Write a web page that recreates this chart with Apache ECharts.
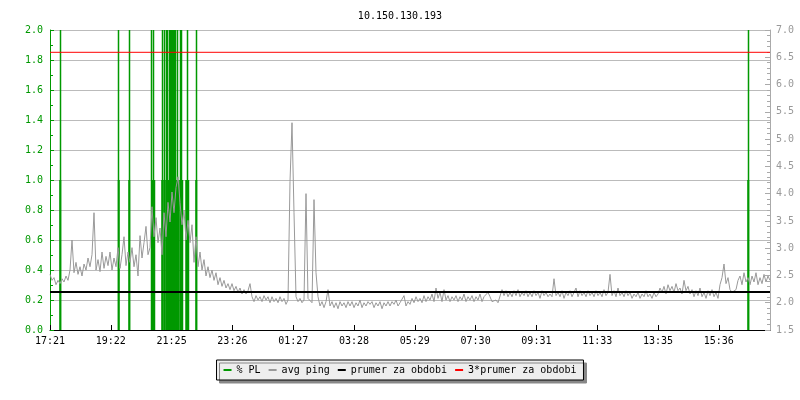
<!DOCTYPE html>
<html>
<head>
<meta charset="utf-8">
<script src="https://cdn.jsdelivr.net/npm/echarts@6/dist/echarts.min.js"></script>
<style>
  html, body { margin: 0; padding: 0; background: #fff; }
  #chart { width: 800px; height: 400px; }
</style>
</head>
<body>
<div id="chart"></div>
<script>
// x axis labels, one every labelStep minutes from 17:21
const xLabels = ['17:21', '19:22', '21:25', '23:26', '01:27', '03:28', '05:29', '07:30', '09:31', '11:33', '13:35', '15:36']
const labelStep = 121.6
const totalMinutes = 1440

// avg ping [ms], one value every 4 minutes
const pingStep = 4
const pingValues = [
  2.52, 2.41, 2.46, 2.33, 2.41, 2.35, 2.44, 2.38, 2.49, 2.41,
  2.60, 3.15, 2.55, 2.74, 2.52, 2.66, 2.49, 2.71, 2.60, 2.82,
  2.66, 2.88, 3.65, 2.60, 2.79, 2.57, 2.93, 2.63, 2.85, 2.68,
  2.93, 2.60, 2.82, 2.66, 3.01, 2.63, 2.88, 3.21, 2.68, 2.93,
  2.74, 3.01, 2.66, 2.88, 2.49, 3.23, 2.82, 3.10, 3.40, 2.88,
  3.01, 3.76, 3.21, 3.56, 3.10, 3.37, 2.88, 3.65, 3.21, 3.84,
  3.48, 4.03, 3.65, 4.11, 4.31, 3.84, 3.43, 3.70, 3.15, 3.51,
  3.10, 3.43, 2.74, 3.21, 2.66, 2.93, 2.60, 2.79, 2.49, 2.66,
  2.46, 2.60, 2.41, 2.55, 2.33, 2.46, 2.30, 2.41, 2.27, 2.35,
  2.24, 2.35, 2.22, 2.30, 2.19, 2.27, 2.16, 2.24, 2.16, 2.22,
  2.35, 2.11, 2.02, 2.13, 2.05, 2.11, 2.02, 2.13, 2.05, 2.11,
  2.00, 2.11, 2.02, 2.08, 2.00, 2.11, 2.02, 2.08, 1.97, 2.05,
  4.22, 5.30, 3.65, 2.11, 2.02, 2.08, 2.00, 2.05, 4.00, 2.08,
  2.05, 2.00, 3.89, 2.55, 2.11, 1.94, 2.02, 1.91, 2.02, 2.24,
  1.94, 2.02, 1.91, 2.00, 1.89, 2.02, 1.94, 2.00, 1.91, 2.02,
  1.94, 2.02, 1.91, 2.00, 1.94, 2.05, 1.91, 2.00, 1.94, 2.02,
  1.97, 2.02, 1.91, 2.00, 1.94, 2.02, 1.89, 2.00, 1.94, 2.02,
  1.94, 2.02, 1.97, 2.05, 1.94, 2.00, 1.97, 2.13, 1.94, 2.02,
  1.97, 2.08, 2.00, 2.11, 2.02, 2.08, 2.00, 2.13, 2.02, 2.11,
  2.05, 2.16, 2.02, 2.27, 2.08, 2.19, 2.02, 2.24, 2.05, 2.13,
  2.02, 2.11, 2.05, 2.13, 2.02, 2.11, 2.05, 2.16, 2.02, 2.11,
  2.05, 2.13, 2.02, 2.11, 2.05, 2.16, 2.02, 2.11, 2.08, 2.19,
  2.11, 2.02, 2.00, 2.05, 2.00, 2.02, 2.24, 2.13, 2.22, 2.11,
  2.19, 2.11, 2.22, 2.13, 2.24, 2.11, 2.19, 2.13, 2.22, 2.11,
  2.19, 2.11, 2.22, 2.13, 2.19, 2.08, 2.22, 2.13, 2.19, 2.11,
  2.16, 2.11, 2.44, 2.13, 2.19, 2.11, 2.22, 2.08, 2.19, 2.13,
  2.22, 2.11, 2.19, 2.27, 2.11, 2.22, 2.13, 2.19, 2.11, 2.22,
  2.13, 2.19, 2.11, 2.22, 2.13, 2.19, 2.11, 2.24, 2.13, 2.19,
  2.52, 2.13, 2.22, 2.11, 2.27, 2.13, 2.19, 2.11, 2.22, 2.13,
  2.19, 2.08, 2.16, 2.11, 2.19, 2.08, 2.16, 2.11, 2.22, 2.11,
  2.16, 2.08, 2.19, 2.11, 2.16, 2.27, 2.19, 2.30, 2.16, 2.33,
  2.22, 2.30, 2.19, 2.35, 2.22, 2.27, 2.16, 2.41, 2.22, 2.30,
  2.16, 2.24, 2.11, 2.22, 2.13, 2.27, 2.11, 2.19, 2.08, 2.22,
  2.13, 2.24, 2.11, 2.19, 2.08, 2.33, 2.46, 2.71, 2.35, 2.46,
  2.24, 2.19, 2.16, 2.24, 2.41, 2.49, 2.33, 2.55, 2.38, 2.46,
  2.33, 2.49, 2.38, 2.55, 2.33, 2.46, 2.35, 2.52, 2.38, 2.49,
  2.41
]

// packet loss [%], minutes from start
const plLossTimes = [20, 137, 158, 204, 208, 224, 228, 232, 236, 240, 244, 248, 252, 256, 260, 264, 272, 276, 292, 1396]
const plLossValues = [1, 1, 1, 1, 1, 1, 1, 1, 1, 1, 1, 1, 1, 1, 1, 1, 1, 1, 1, 1]
const plSpikeTimes = [21, 137, 159, 203, 207, 225, 229, 233, 235, 239, 241, 243, 245, 247, 249, 251, 255, 261, 263, 275, 293, 1397]
const plSpikeValues = [2, 2, 2, 2, 2, 2, 2, 2, 2, 2, 2, 2, 2, 2, 2, 2, 2, 2, 2, 2, 2, 2]

const prumer = 2.197

const font = 'DejaVu Sans Mono'
const green = '#009900'

const chart = echarts.init(document.getElementById('chart'), null, { renderer: 'canvas' })

const option = {
  animation: false,
  textStyle: { fontFamily: font },
  title: {
    text: '10.150.130.193',
    left: 'center',
    top: 6,
    textStyle: { fontFamily: font, fontSize: 10, fontWeight: 'normal', color: '#000' }
  },
  grid: { left: 50, right: 30, top: 30, bottom: 70 },
  legend: {
    left: 'center',
    top: 360,
    icon: 'rect',
    itemWidth: 8,
    itemHeight: 2,
    itemGap: 8,
    padding: [5, 7],
    backgroundColor: '#eeeeee',
    borderColor: '#000',
    borderWidth: 1,
    borderRadius: 0,
    shadowColor: '#888',
    shadowOffsetX: 3,
    shadowOffsetY: 3,
    textStyle: { fontFamily: font, fontSize: 10, color: '#000' },
    data: ['% PL', 'avg ping', 'prumer za obdobi', '3*prumer za obdobi']
  },
  xAxis: {
    type: 'value',
    min: 0,
    max: totalMinutes,
    interval: labelStep,
    axisLine: { lineStyle: { color: '#000', width: 1 } },
    axisTick: { inside: true, length: 5, lineStyle: { color: '#000' } },
    splitLine: { show: false },
    axisLabel: {
      color: '#000',
      fontSize: 10,
      fontFamily: font,
      margin: 6,
      showMaxLabel: false,
      formatter: v => xLabels[Math.round(v / labelStep)] || ''
    }
  },
  yAxis: [
    {
      type: 'value',
      min: 0,
      max: 2,
      interval: 0.2,
      axisLine: { show: true, lineStyle: { color: green } },
      axisTick: { show: true, inside: true, length: 4, lineStyle: { color: green } },
      minorTick: { show: true, splitNumber: 2, length: 3, lineStyle: { color: green } },
      splitLine: { lineStyle: { color: '#bbbbbb' } },
      axisLabel: { color: green, fontSize: 10, fontFamily: font, margin: 7, formatter: v => v.toFixed(1) }
    },
    {
      type: 'value',
      min: 1.5,
      max: 7,
      interval: 0.5,
      position: 'right',
      axisLine: { show: true, lineStyle: { color: '#aaaaaa' } },
      axisTick: { show: true, inside: true, length: 5, lineStyle: { color: '#aaaaaa' } },
      minorTick: { show: true, splitNumber: 5, length: 3, lineStyle: { color: '#aaaaaa' } },
      splitLine: { show: false },
      axisLabel: { color: '#999999', fontSize: 10, fontFamily: font, margin: 6, formatter: v => v.toFixed(1) }
    }
  ],
  series: [
    {
      name: '% PL',
      type: 'bar',
      yAxisIndex: 0,
      barWidth: 2,
      barGap: '-100%',
      itemStyle: { color: green },
      data: plLossTimes.map((t, i) => [t, plLossValues[i]])
    },
    {
      name: '% PL',
      type: 'bar',
      yAxisIndex: 0,
      barWidth: 1.5,
      barGap: '-100%',
      itemStyle: { color: green },
      data: plSpikeTimes.map((t, i) => [t, plSpikeValues[i]])
    },
    {
      name: 'avg ping',
      type: 'line',
      yAxisIndex: 1,
      symbol: 'none',
      lineStyle: { color: '#999999', width: 1 },
      itemStyle: { color: '#999999' },
      data: pingValues.map((v, i) => [i * pingStep, v])
    },
    {
      name: 'prumer za obdobi',
      type: 'line',
      yAxisIndex: 1,
      symbol: 'none',
      lineStyle: { color: '#000', width: 2 },
      itemStyle: { color: '#000' },
      data: [[0, prumer], [totalMinutes, prumer]]
    },
    {
      name: '3*prumer za obdobi',
      type: 'line',
      yAxisIndex: 1,
      symbol: 'none',
      lineStyle: { color: '#ff0000', width: 1 },
      itemStyle: { color: '#ff0000' },
      data: [[0, 3 * prumer], [totalMinutes, 3 * prumer]]
    }
  ]
}

chart.setOption(option)
window.addEventListener('resize', chart.resize)
</script>
</body>
</html>
